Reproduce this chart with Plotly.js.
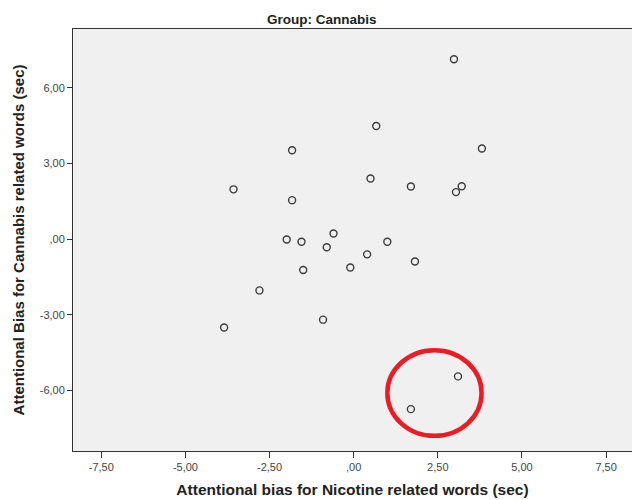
<!DOCTYPE html>
<html>
<head>
<meta charset="utf-8">
<script src="https://cdn.plot.ly/plotly-3.0.1.min.js"></script>
<style>html,body{margin:0;padding:0;background:#fff;}#chart{width:632px;height:500px;}</style>
</head>
<body>
<div id="chart"></div>
<script>
// Attentional bias for Nicotine related words (sec)
var nicotineBias = [2.98, 0.67, -1.83, 3.81, -3.57, 0.50, 1.70, 3.21, 3.04, -1.83,
  -1.99, -1.55, -0.60, -0.80, 1.00, 0.40, -0.10, -1.50, 1.82, -2.80,
  -3.85, -0.91, 3.10, 1.70];
// Attentional Bias for Cannabis related words (sec)
var cannabisBias = [7.14, 4.49, 3.53, 3.60, 1.98, 2.41, 2.09, 2.10, 1.87, 1.55,
  -0.01, -0.10, 0.23, -0.32, -0.10, -0.60, -1.12, -1.22, -0.88, -2.03,
  -3.50, -3.19, -5.44, -6.74];
var xTickVals = [-7.5, -5, -2.5, 0, 2.5, 5, 7.5];
var xTickText = ['-7,50', '-5,00', '-2,50', ',00', '2,50', '5,00', '7,50'];
var yTickVals = [-6, -3, 0, 3, 6];
var yTickText = ['-6,00', '-3,00', ',00', '3,00', '6,00'];
var yTitleText = 'Attentional Bias for Cannabis related words (sec)';
var xTitleText = 'Attentional bias for Nicotine related words (sec)';
// highlighted region (red hand-drawn ellipse around the two outliers), data units
var highlightCenter = [2.4, -6.1];
var highlightRadius = [1.4, 1.7];

var trace = {
  x: nicotineBias,
  y: cannabisBias,
  type: 'scatter',
  mode: 'markers',
  marker: {symbol: 'circle-open', size: 7, color: '#3c3c3c', line: {width: 1.4, color: '#3c3c3c'}},
  hoverinfo: 'skip'
};

var layout = {
  width: 632,
  height: 500,
  margin: {l: 73, r: 0, t: 29, b: 49, pad: 0},
  paper_bgcolor: '#ffffff',
  plot_bgcolor: '#f0f0f0',
  showlegend: false,
  font: {family: 'Arial, "Liberation Sans", sans-serif', color: '#333'},
  title: {
    text: 'Group: Cannabis',
    font: {family: '"Liberation Sans Narrow", "Arial Narrow", Arial, sans-serif', size: 13.5, color: '#222', weight: 'bold'},
    x: 0.509, xanchor: 'center', y: 0.962, yanchor: 'middle'
  },
  xaxis: {
    range: [-8.34, 8.27],
    tickvals: xTickVals, ticktext: xTickText,
    ticks: 'outside', ticklen: 6, tickwidth: 1, tickcolor: '#333',
    showgrid: false, zeroline: false,
    showline: true, linecolor: '#333', linewidth: 1, mirror: true,
    tickfont: {size: 11, color: '#444'},
    title: {text: '<b>' + xTitleText + '</b>', font: {size: 15.5, color: '#222'}, standoff: 11}
  },
  yaxis: {
    range: [-8.4, 8.34],
    tickvals: yTickVals, ticktext: yTickText,
    ticks: 'outside', ticklen: 5, tickwidth: 1, tickcolor: '#333',
    showgrid: false, zeroline: false,
    showline: true, linecolor: '#333', linewidth: 1, mirror: false,
    tickfont: {size: 11, color: '#444'},
    title: {text: '<b>' + yTitleText + '</b>', font: {size: 15, color: '#222'}, standoff: 11}
  },
  shapes: [{
    type: 'circle', xref: 'x', yref: 'y',
    x0: highlightCenter[0] - highlightRadius[0], x1: highlightCenter[0] + highlightRadius[0],
    y0: highlightCenter[1] - highlightRadius[1], y1: highlightCenter[1] + highlightRadius[1],
    line: {color: '#ed1c24', width: 4.5}
  }]
};

Plotly.newPlot('chart', [trace], layout, {staticPlot: true, displayModeBar: false});
</script>
</body>
</html>
